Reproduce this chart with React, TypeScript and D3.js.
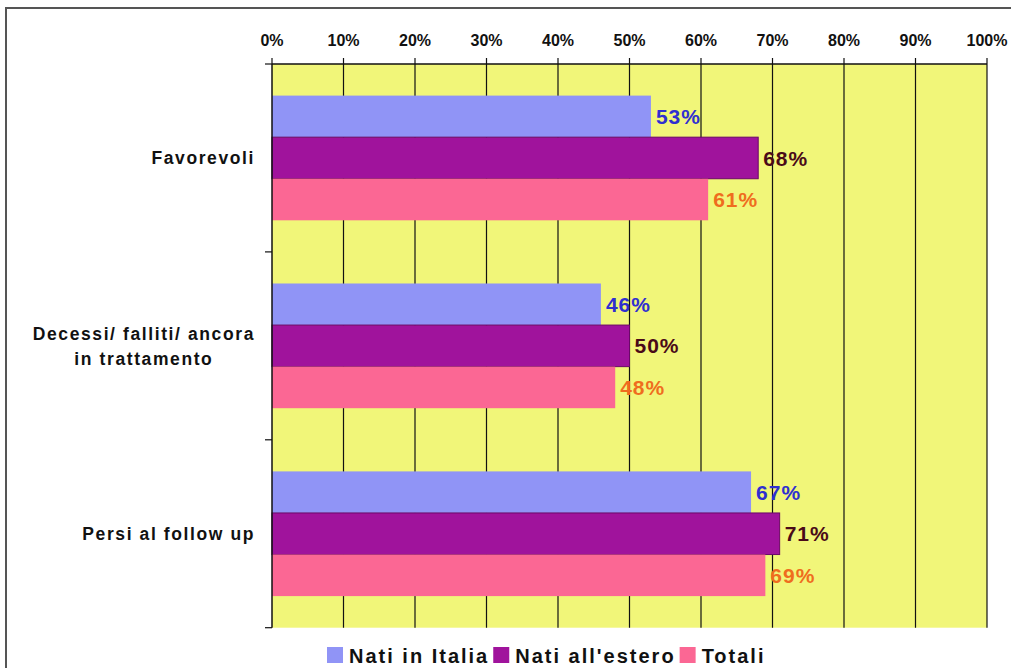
import React, { useEffect, useRef } from "react";
import * as d3 from "d3";

const categories = ["Favorevoli", "Decessi/ falliti/ ancora|in trattamento", "Persi al follow up"];
const seriesNames = ["Nati in Italia", "Nati all'estero", "Totali"];
const natiItalia = [53, 46, 67];
const natiEstero = [68, 50, 71];
const totali = [61, 48, 69];
const xTicks = [0, 10, 20, 30, 40, 50, 60, 70, 80, 90, 100];

const barColors = ["#9094f6", "#a0139c", "#fb6794"];
const barStrokes = ["none", "#6a0868", "none"];
const labelColors = ["#2f2fd0", "#4a0a18", "#ef6d1e"];

const W = 1011, H = 668;
const plot = { left: 272, right: 987, top: 64, bottom: 627.7 };

export default function App() {
  const ref = useRef<SVGSVGElement>(null);
  useEffect(() => {
    const svg = d3.select(ref.current);
    svg.selectAll("*").remove();
    const font = "'Liberation Sans', Arial, sans-serif";
    const values = [natiItalia, natiEstero, totali];

    // frame
    svg.append("rect").attr("x", 6).attr("y", 8).attr("width", W + 20).attr("height", H + 20)
      .attr("fill", "white").attr("stroke", "#555").attr("stroke-width", 2);

    const x = d3.scaleLinear().domain([0, 100]).range([plot.left, plot.right]);
    const y = d3.scaleBand<number>().domain(d3.range(categories.length)).range([plot.top, plot.bottom]);
    const ys = d3.scaleBand<number>().domain(d3.range(seriesNames.length)).range([0, y.bandwidth()]).paddingOuter(0.76).paddingInner(0);

    // plot area
    svg.append("rect").attr("x", plot.left).attr("y", plot.top).attr("width", plot.right - plot.left)
      .attr("height", plot.bottom - plot.top).attr("fill", "#f1f679");

    // gridlines
    svg.append("g").selectAll("line").data(xTicks.slice(1)).join("line")
      .attr("x1", d => x(d)).attr("x2", d => x(d)).attr("y1", plot.top).attr("y2", plot.bottom)
      .attr("stroke", "#111").attr("stroke-width", 1.2);

    // bars
    categories.forEach((_, ci) => {
      seriesNames.forEach((_, si) => {
        const v = values[si][ci];
        const yy = (y(ci) as number) + (ys(si) as number);
        svg.append("rect").attr("x", x(0)).attr("y", yy).attr("width", x(v) - x(0)).attr("height", ys.bandwidth())
          .attr("fill", barColors[si]).attr("stroke", barStrokes[si]).attr("stroke-width", 1);
        svg.append("text").attr("x", x(v) + 5).attr("y", yy + ys.bandwidth() / 2).attr("dy", "0.36em")
          .attr("font-family", font).attr("font-weight", "bold").attr("font-size", 21)
          .attr("letter-spacing", 1).attr("fill", labelColors[si]).text(v + "%");
      });
    });

    // top axis
    svg.append("line").attr("x1", plot.left).attr("x2", plot.right).attr("y1", plot.top).attr("y2", plot.top)
      .attr("stroke", "#111").attr("stroke-width", 1.5);
    svg.append("g").selectAll("line").data(xTicks).join("line")
      .attr("x1", d => x(d)).attr("x2", d => x(d)).attr("y1", plot.top - 6).attr("y2", plot.top)
      .attr("stroke", "#111").attr("stroke-width", 1.2);
    svg.append("g").selectAll("text").data(xTicks).join("text")
      .attr("x", d => x(d)).attr("y", 46).attr("text-anchor", "middle")
      .attr("font-family", font).attr("font-weight", "bold").attr("font-size", 16)
      .attr("fill", "#111").text(d => d + "%");

    // left axis
    svg.append("line").attr("x1", plot.left).attr("x2", plot.left).attr("y1", plot.top).attr("y2", plot.bottom)
      .attr("stroke", "#111").attr("stroke-width", 1.5);
    const bounds = d3.range(categories.length + 1).map(i => plot.top + i * y.step());
    svg.append("g").selectAll("line").data(bounds).join("line")
      .attr("x1", plot.left - 7).attr("x2", plot.left).attr("y1", d => d).attr("y2", d => d)
      .attr("stroke", "#111").attr("stroke-width", 1.2);

    // category labels
    categories.forEach((c, ci) => {
      const lines = c.split("|");
      const cy = (y(ci) as number) + y.bandwidth() / 2;
      const g = svg.append("g");
      const texts = lines.map((ln, li) =>
        g.append("text").attr("y", cy + (li - (lines.length - 1) / 2) * 25).attr("dy", "0.36em")
          .attr("font-family", font).attr("font-weight", "bold").attr("font-size", 17.5)
          .attr("letter-spacing", 1.6).attr("fill", "#111").attr("text-anchor", "middle").text(ln));
      const widths = texts.map(t => (t.node() as SVGTextElement).getComputedTextLength());
      const maxW = Math.max(...widths);
      texts.forEach(t => t.attr("x", 255 - maxW / 2));
    });

    // legend
    let lx = 327;
    seriesNames.forEach((s, si) => {
      svg.append("rect").attr("x", lx).attr("y", 647).attr("width", 16).attr("height", 16).attr("fill", barColors[si]);
      const t = svg.append("text").attr("x", lx + 22).attr("y", 663)
        .attr("font-family", font).attr("font-weight", "bold").attr("font-size", 20)
        .attr("letter-spacing", 2).attr("fill", "#111").text(s);
      const w = (t.node() as SVGTextElement).getComputedTextLength();
      lx += 22 + w + 4;
    });
  }, []);
  return (
    <svg ref={ref} width={W} height={H} style={{ position: "absolute", left: 0, top: 0, background: "white" }} />
  );
}
